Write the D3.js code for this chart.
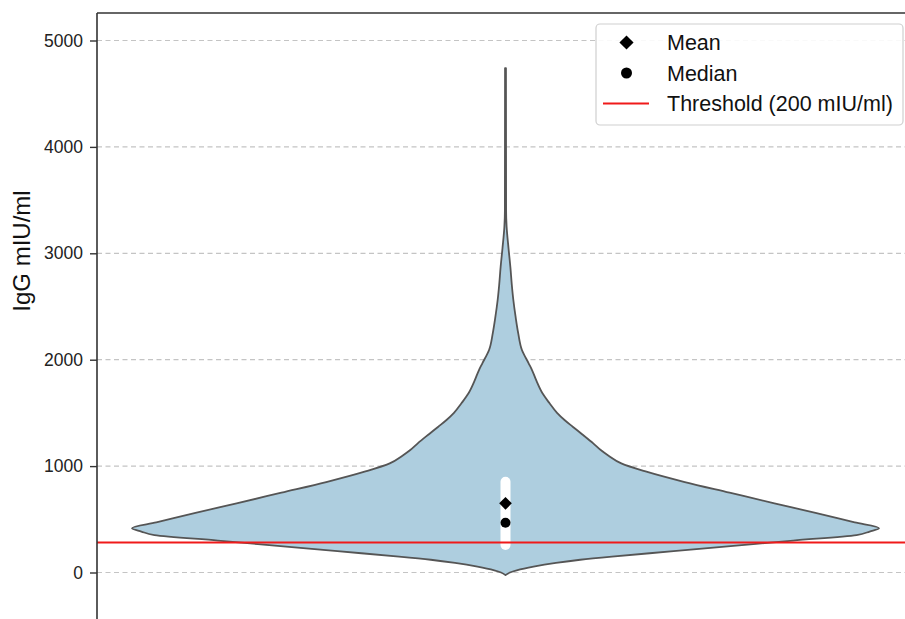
<!DOCTYPE html>
<html>
<head>
<meta charset="utf-8">
<script src="https://cdn.jsdelivr.net/npm/d3@7/dist/d3.min.js"></script>
<style>
  html, body { margin: 0; padding: 0; background: #fff; }
  svg { display: block; font-family: "Liberation Sans", Arial, sans-serif; }
</style>
</head>
<body>
<svg id="chart" width="905" height="619"></svg>
<script>
// ---- data ----
const yTicks = [0, 1000, 2000, 3000, 4000, 5000];
// violin outline: IgG value and relative density (1 = widest point)
const kdeValues  = [-25, 0, 20, 55, 90, 120, 150, 200, 250, 300, 352, 385, 415, 470, 560, 650, 750, 850, 950, 1026, 1100, 1151, 1214, 1300, 1370, 1433, 1500, 1590, 1684, 1800, 1903, 1966, 2091, 2250, 2404, 2561, 2700, 2874, 3050, 3250, 3400, 4741];
const kdeDensity = [0.0, 0.012, 0.03, 0.075, 0.135, 0.2, 0.285, 0.45, 0.61, 0.77, 0.94, 0.975, 1.0, 0.935, 0.83, 0.72, 0.6, 0.48, 0.375, 0.31, 0.275, 0.255, 0.235, 0.205, 0.18, 0.158, 0.138, 0.118, 0.099, 0.083, 0.071, 0.062, 0.044, 0.034, 0.027, 0.021, 0.017, 0.013, 0.008, 0.003, 0.0016, 0.0012];
const q1 = 212, q3 = 900;
const meanValue = 650;
const medianValue = 468;
const thresholdValue = 282;
const legendLabels = ["Mean", "Median", "Threshold (200 mIU/ml)"];
const yLabel = "IgG mIU/ml";

// ---- layout ----
const svg = d3.select("#chart");
const pLeft = 97, pTop = 13, pRight = 915, pBottom = 640;
const y = d3.scaleLinear().domain([0, 5000]).range([572.5, 40.5]);
const cx = 505.5;
const w = d3.scaleLinear().domain([-1, 1]).range([cx - 373.5, cx + 373.5]);

// gridlines
svg.append("g").selectAll("line").data(yTicks).join("line")
  .attr("x1", pLeft).attr("x2", pRight)
  .attr("y1", d => y(d)).attr("y2", d => y(d))
  .attr("stroke", "#c4c4c4").attr("stroke-width", 1.2)
  .attr("stroke-dasharray", "5,3.5");

// violin
const pts = kdeValues.map((v, i) => ({ v, d: kdeDensity[i] }));
const area = d3.area()
  .y(p => y(p.v))
  .x0(p => w(-p.d))
  .x1(p => w(p.d))
  .curve(d3.curveMonotoneY);
svg.append("path").datum(pts)
  .attr("d", area)
  .attr("fill", "#aecedf")
  .attr("stroke", "#555")
  .attr("stroke-width", 1.8)
  .attr("stroke-linejoin", "round");

// IQR box
svg.append("rect")
  .attr("x", cx - 5).attr("width", 10)
  .attr("y", y(q3)).attr("height", y(q1) - y(q3))
  .attr("rx", 5).attr("fill", "#fff");

// mean diamond
svg.append("path")
  .attr("d", d3.symbol(d3.symbolSquare, 80)())
  .attr("transform", `translate(${cx},${y(meanValue)}) rotate(45)`)
  .attr("fill", "#000");
// median
svg.append("circle").attr("cx", cx).attr("cy", y(medianValue)).attr("r", 5).attr("fill", "#000");

// threshold
svg.append("line")
  .attr("x1", pLeft).attr("x2", pRight)
  .attr("y1", y(thresholdValue)).attr("y2", y(thresholdValue))
  .attr("stroke", "#f01a1a").attr("stroke-width", 2);

// axis
const yAxis = d3.axisLeft(y).tickValues(yTicks).tickSize(7).tickPadding(7).tickFormat(d3.format("d"));
const ga = svg.append("g").attr("transform", `translate(${pLeft},0)`).call(yAxis);
ga.select(".domain").remove();
ga.selectAll(".tick line").attr("stroke", "#333").attr("stroke-width", 1.4);
ga.selectAll(".tick text").attr("font-size", 17.5).attr("fill", "#222")
  .attr("font-family", "'Liberation Sans', Arial, sans-serif");

// spines
svg.append("line").attr("x1", pLeft).attr("x2", pLeft).attr("y1", pTop).attr("y2", pBottom)
  .attr("stroke", "#333").attr("stroke-width", 1.6);
svg.append("line").attr("x1", pLeft).attr("x2", pRight).attr("y1", pTop).attr("y2", pTop)
  .attr("stroke", "#333").attr("stroke-width", 1.6);

// y label
svg.append("text")
  .attr("transform", `translate(22,251) rotate(-90)`)
  .attr("text-anchor", "middle")
  .attr("dy", "0.35em")
  .attr("font-size", 24).attr("fill", "#111")
  .text(yLabel);

// legend
const lg = svg.append("g");
lg.append("rect").attr("x", 596).attr("y", 24).attr("width", 307).attr("height", 101)
  .attr("rx", 4).attr("fill", "#fff").attr("fill-opacity", 0.9)
  .attr("stroke", "#cfcfcf").attr("stroke-width", 1.2);
const ly = [42.5, 73, 103.5];
lg.append("path").attr("d", d3.symbol(d3.symbolSquare, 100)())
  .attr("transform", `translate(626.5,${ly[0]}) rotate(45)`).attr("fill", "#000");
lg.append("circle").attr("cx", 626.5).attr("cy", ly[1]).attr("r", 5.5).attr("fill", "#000");
lg.append("line").attr("x1", 603).attr("x2", 649).attr("y1", ly[2]).attr("y2", ly[2])
  .attr("stroke", "#f01a1a").attr("stroke-width", 2);
lg.selectAll("text.lt").data(legendLabels).join("text")
  .attr("class", "lt")
  .attr("x", 667).attr("y", (d, i) => ly[i])
  .attr("dy", "0.35em")
  .attr("font-size", 21.5).attr("fill", "#111")
  .text(d => d);
</script>
</body>
</html>
